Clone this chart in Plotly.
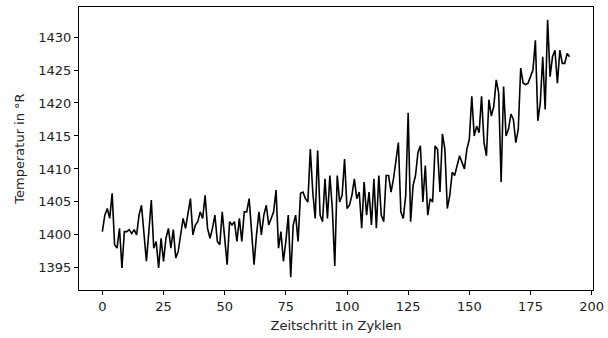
import plotly.graph_objects as go

temperature = [
    1400.5, 1403, 1404, 1402.5, 1406.3, 1398.5, 1398, 1401, 1395, 1400.5,
    1400.5, 1400.8, 1400.2, 1400.8, 1400, 1403, 1404.5, 1400, 1396, 1400.5,
    1405.3, 1398, 1399, 1395, 1399.5, 1396, 1399.5, 1401, 1398, 1400.8,
    1396.5, 1397.5, 1400, 1402.5, 1401, 1403, 1405.5, 1400, 1401.5, 1402,
    1403.5, 1402.5, 1406, 1401, 1399.5, 1401, 1403, 1399, 1398.5, 1403.5,
    1400, 1395.5, 1402, 1401.5, 1402, 1399, 1402.5, 1399, 1403.5, 1403.5,
    1405.5, 1400, 1395.5, 1400, 1403.5, 1400, 1403, 1404.5, 1401.5, 1402.5,
    1403.5, 1406.8, 1398, 1400.5, 1396, 1399, 1403, 1393.6, 1401.5, 1403,
    1399, 1406.3, 1406.5, 1405.5, 1405, 1413, 1406.5, 1402.5, 1412.8, 1403,
    1402, 1408.5, 1402.5, 1409, 1404, 1395.3, 1409, 1405, 1406, 1411.5,
    1404, 1404.5, 1406, 1408.5, 1405.5, 1406.5, 1401, 1408, 1403, 1406.5,
    1401.5, 1408.5, 1401, 1409, 1403, 1402, 1409, 1409, 1406.5, 1408.5,
    1411.5, 1414, 1403.5, 1402.5, 1406, 1418.5, 1402, 1407.5, 1409, 1412.5,
    1413.5, 1405, 1410.5, 1403, 1405.5, 1405, 1413.5, 1413, 1406.5, 1415.3,
    1413, 1404, 1406, 1409.5, 1409, 1410.5, 1412, 1411, 1410, 1413,
    1414.5, 1421, 1415, 1416.5, 1415.5, 1421, 1414, 1412, 1420.5, 1418,
    1419.5, 1423.5, 1421.5, 1408, 1422.5, 1415, 1416, 1418.3, 1417.5, 1414,
    1416, 1425.3, 1423, 1422.8, 1423, 1424, 1425, 1429.5, 1417.3, 1420,
    1427, 1419, 1432.6, 1424, 1427, 1428, 1423, 1428, 1426, 1426,
    1427.5, 1427,
]
cycles = list(range(len(temperature)))
x_ticks = [0, 25, 50, 75, 100, 125, 150, 175, 200]
y_ticks = [1395, 1400, 1405, 1410, 1415, 1420, 1425, 1430]

n = len(temperature) - 1
xpad = n * 0.05
ymin, ymax = min(temperature), max(temperature)
ypad = (ymax - ymin) * 0.05

fig = go.Figure(go.Scatter(x=cycles, y=temperature, mode="lines",
                           line=dict(color="black", width=1.6)))

axis_common = dict(showline=True, mirror=True, linecolor="black", linewidth=1,
                   ticks="outside", ticklen=4, tickcolor="black", showgrid=False,
                   zeroline=False, tickfont=dict(size=13, color="#222"),
                   ticklabeloverflow="allow")

fig.update_layout(
    width=608, height=338,
    margin=dict(l=79, r=4, t=7, b=48),
    paper_bgcolor="white", plot_bgcolor="white",
    font=dict(family="DejaVu Sans", color="#222"),
    showlegend=False,
    xaxis=dict(range=[-xpad, n + xpad], tickvals=x_ticks,
               title=dict(text="Zeitschritt in Zyklen", font=dict(size=13), standoff=8),
               **axis_common),
    yaxis=dict(range=[ymin - ypad, ymax + ypad], tickvals=y_ticks,
               title=dict(text="Temperatur in °R", font=dict(size=13), standoff=10),
               **axis_common),
)

fig.write_html("out.html")
